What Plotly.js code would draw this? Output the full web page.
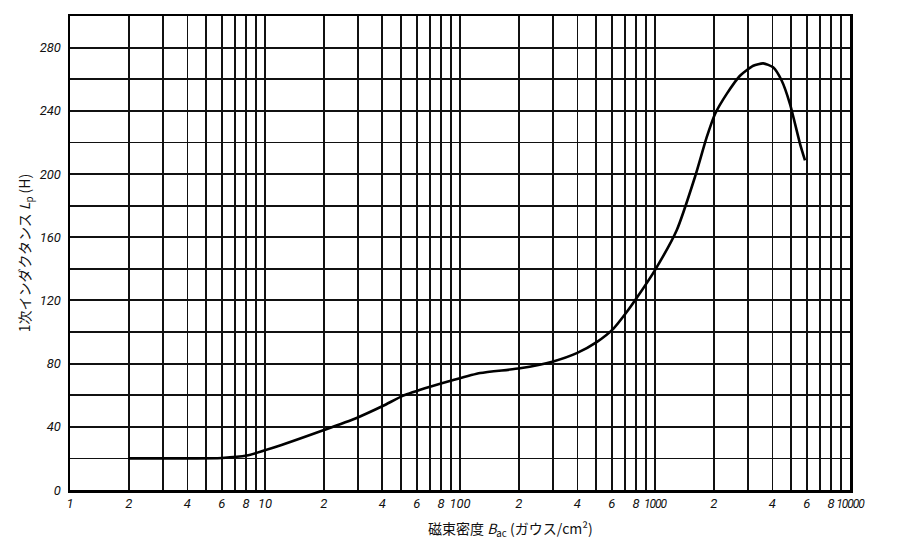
<!DOCTYPE html>
<html>
<head>
<meta charset="utf-8">
<script src="https://cdn.plot.ly/plotly-3.0.1.min.js"></script>
<style>
  html, body { margin: 0; padding: 0; background: #fff; }
  #chart { width: 900px; height: 548px; }
</style>
</head>
<body>
<div id="chart"></div>
<script>
// ---- data ----
const fluxDensity = [2, 4, 6, 8.06, 11, 19.9, 29.5, 40.4, 51.2, 70.2, 92.4, 127, 203, 301, 397, 502, 611, 716, 800, 1000, 1292, 1603, 1842, 2032, 2333, 2728, 3191, 3589, 4033, 4467, 4920, 5543, 5878];
const inductance  = [20, 20, 20.3, 21.8, 26.7, 37.8, 45.6, 53.3, 59.7, 65.3, 69.6, 74, 77, 81.4, 86.6, 93.6, 102, 112.6, 121, 139.2, 164.4, 198.1, 223.3, 238, 250.7, 262.2, 268.5, 270, 267.5, 259, 244.4, 219.1, 208.6];

// labelled x ticks
const xTickVals = [1,2,4,6,8, 10,20,40,60,80, 100,200,400,600,800, 1000,2000,4000,6000,8000, 10000];
const xTickText = ['1','2','4','6','8', '10','2','4','6','8', '100','2','4','6','8', '1000','2','4','6','8', '10000'];
// unlabelled x grid lines
const xMinorVals = [3,5,7,9, 30,50,70,90, 300,500,700,900, 3000,5000,7000,9000];
// labelled y ticks
const yTickVals = [0,40,80,120,160,200,240,280];
const yTickText = ['0','40','80','120','160','200','240','280'];
// unlabelled y grid lines
const yMinorVals = [20,60,100,140,180,220,260,300];

const xTitle = '磁束密度 <i>B</i><sub>ac</sub> (ガウス/cm²)';
const yTitle = '1次インダクタンス <i>L</i><sub>p</sub> (H)';

// long labels are drawn a little tighter so they do not collide with the "8" beside them
const xTickLabels = xTickText.map(t => t.length >= 4
  ? '<span style="font-size:12px;letter-spacing:-1px">' + t + '</span>'
  : t);

// ---- chart ----
const tickFont = {family: 'Roboto, DejaVu Sans, sans-serif', size: 13, color: '#111', style: 'italic'};
const cjkFont = {family: 'Noto Sans CJK JP, DejaVu Sans, sans-serif', size: 14, color: '#111'};

const trace = {
  x: fluxDensity,
  y: inductance,
  type: 'scatter',
  mode: 'lines',
  line: {color: '#000', width: 2.6, shape: 'spline', smoothing: 0.6},
  hoverinfo: 'x+y',
  showlegend: false
};

const gridStyle = {color: '#111', width: 1.8};

const layout = {
  width: 900,
  height: 548,
  margin: {l: 70, r: 50, t: 16, b: 58},
  paper_bgcolor: '#fff',
  plot_bgcolor: '#fff',
  xaxis: {
    type: 'log',
    range: [0, 4],
    tickmode: 'array',
    tickvals: xTickVals,
    ticktext: xTickLabels,
    tickangle: 0,
    tickfont: tickFont,
    ticks: '',
    showgrid: true,
    gridcolor: gridStyle.color,
    gridwidth: gridStyle.width,
    minor: {tickmode: 'array', tickvals: xMinorVals, showgrid: true, gridcolor: gridStyle.color, gridwidth: gridStyle.width, ticks: ''},
    showline: true,
    linecolor: '#000',
    linewidth: 2.5,
    mirror: true,
    zeroline: false,
    fixedrange: true
  },
  yaxis: {
    range: [0, 300],
    tickmode: 'array',
    tickvals: yTickVals,
    ticktext: yTickText,
    tickfont: tickFont,
    ticks: '',
    ticklabelstandoff: 4,
    showgrid: true,
    gridcolor: gridStyle.color,
    gridwidth: gridStyle.width,
    minor: {tickmode: 'array', tickvals: yMinorVals, showgrid: true, gridcolor: gridStyle.color, gridwidth: gridStyle.width, ticks: ''},
    showline: true,
    linecolor: '#000',
    linewidth: 2.5,
    mirror: true,
    zeroline: false,
    fixedrange: true,
    title: {text: yTitle, font: cjkFont, standoff: 6}
  },
  annotations: [{
    text: xTitle,
    xref: 'paper', yref: 'paper',
    x: 0.565, y: -0.055,
    xanchor: 'center', yanchor: 'top',
    showarrow: false,
    font: cjkFont
  }]
};

Plotly.newPlot('chart', [trace], layout, {displayModeBar: false, staticPlot: true});
</script>
</body>
</html>
